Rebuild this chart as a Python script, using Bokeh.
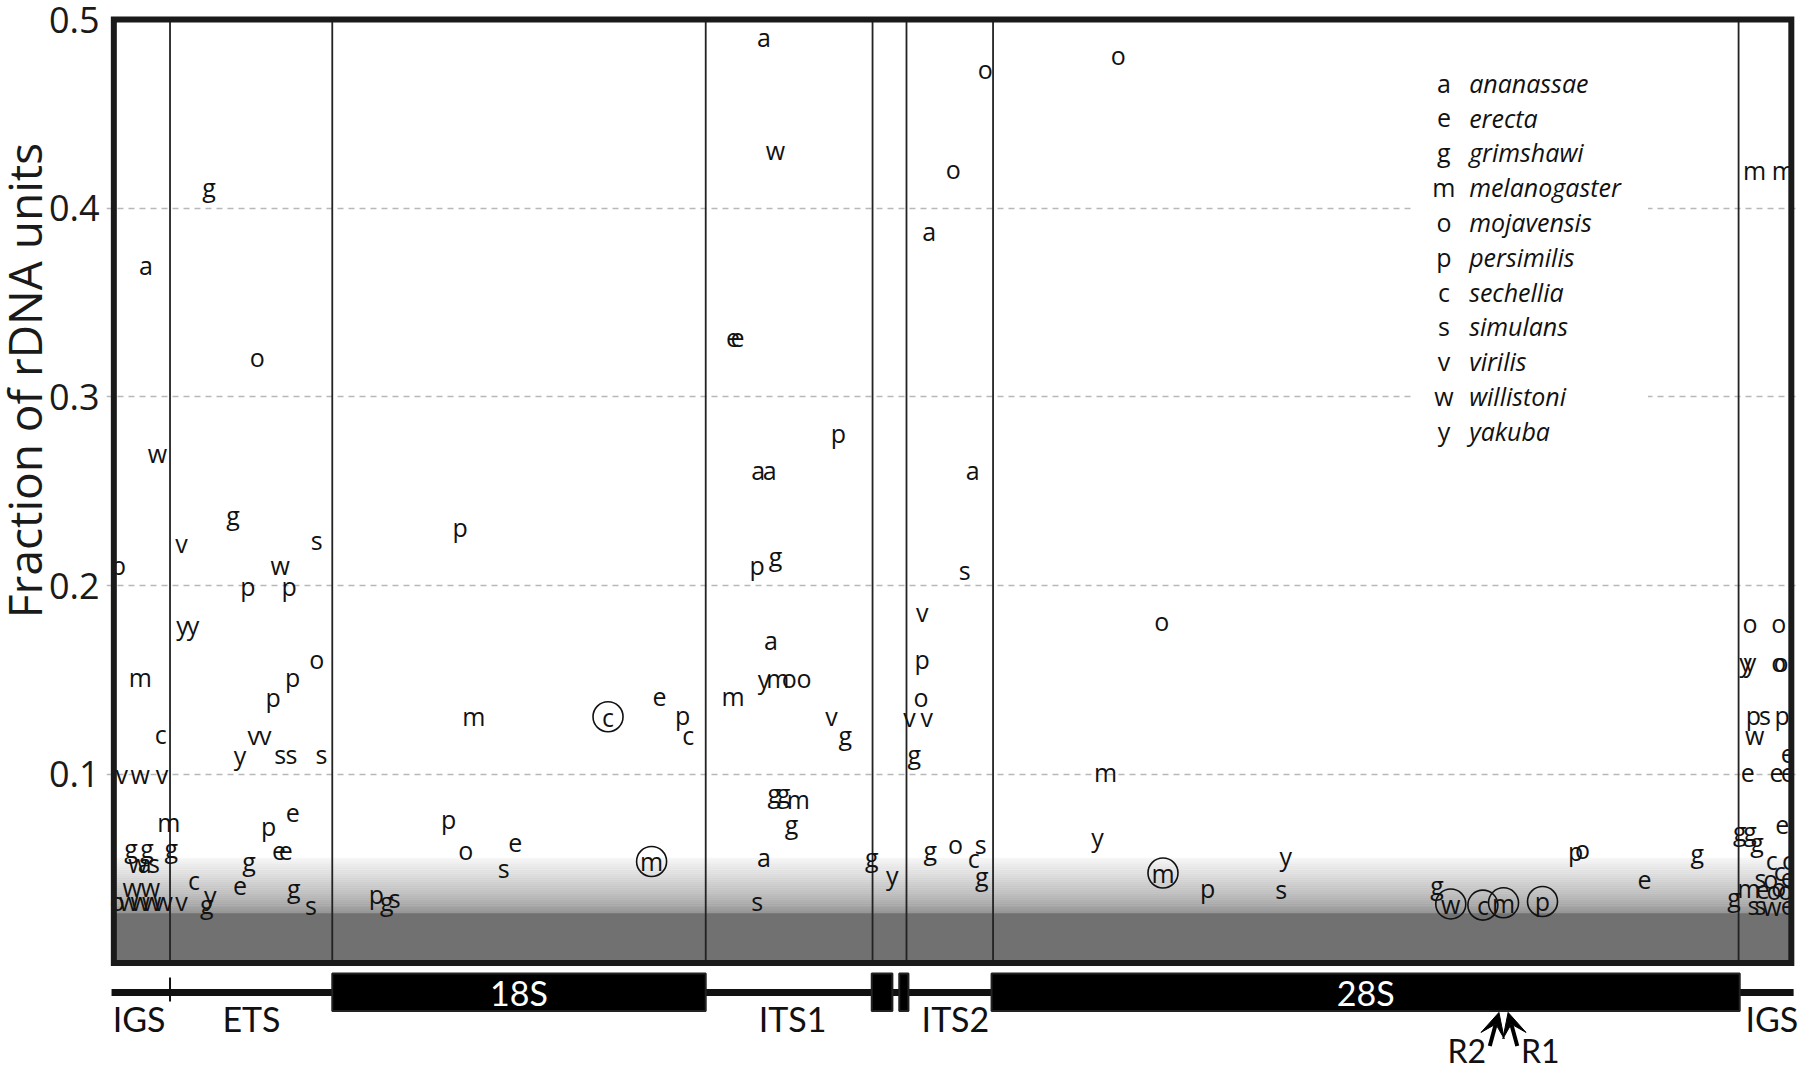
import numpy as np
from bokeh.plotting import figure
from bokeh.layouts import row
from bokeh.models import Range1d, FixedTicker, Arrow, VeeHead
from bokeh.core.properties import value
from bokeh.embed import file_html
from bokeh.resources import INLINE

# ---------------- data ----------------
species_codes = ["a", "e", "g", "m", "o", "p", "c", "s", "v", "w", "y"]
species_names = ["ananassae", "erecta", "grimshawi", "melanogaster", "mojavensis",
                 "persimilis", "sechellia", "simulans", "virilis", "willistoni", "yakuba"]

# region boundaries along the rDNA unit (arbitrary position units)
region_bounds = [146, 287.5, 613.2, 758.7, 788.3, 863.8, 1514]
region_labels = ["IGS", "ETS", "ITS1", "ITS2", "IGS"]
region_label_pos = [119, 217, 689, 831, 1543]
gene_labels = ["18S", "", "", "28S"]
gene_start = [287.5, 758, 782, 862.5]
gene_end = [613.2, 776, 790, 1515]
insert_labels = ["R2", "R1"]
insert_pos = [1305, 1313]

# letters: species code, position, fraction of rDNA units
igs5_code = ["a", "w", "p", "m", "c", "v", "w", "v", "m", "g", "g", "g", "w", "a", "s",
             "w", "w", "o", "w", "w", "w", "w"]
igs5_pos = [125, 135, 101, 120, 138, 104, 120, 139, 145, 112, 126, 147, 118, 124, 132,
            113, 129, 100, 110, 120, 130, 140]
igs5_frac = [0.370, 0.2705, 0.2108, 0.1518, 0.1214, 0.1001, 0.1001, 0.1001, 0.0745, 0.0611,
             0.0611, 0.0611, 0.0532, 0.0532, 0.0532, 0.0404, 0.0404, 0.0326, 0.0326, 0.0326,
             0.0326, 0.0326]

ets_code = ["g", "o", "g", "s", "v", "w", "p", "p", "y", "y", "o", "p", "p", "v", "v", "y",
            "s", "s", "s", "e", "p", "e", "e", "g", "c", "e", "y", "g", "v", "g", "s"]
ets_pos = [180, 222, 201, 274, 156, 242, 214, 250, 157, 166, 274, 253, 236, 219, 229, 207,
           242, 252, 278, 253, 232, 241, 247, 215, 167, 207, 181, 178, 156, 254, 269]
ets_frac = [0.4111, 0.3210, 0.2376, 0.2242, 0.2224, 0.2108, 0.1999, 0.1999, 0.1792, 0.1792,
            0.1609, 0.1518, 0.1409, 0.1208, 0.1208, 0.1104, 0.1110, 0.1110, 0.1110, 0.0794,
            0.0727, 0.0593, 0.0593, 0.0538, 0.0441, 0.0410, 0.0362, 0.0313, 0.0326, 0.0398,
            0.0307]

s18_code = ["p", "m", "c", "e", "p", "c", "p", "o", "e", "s", "m", "p", "g", "s"]
s18_pos = [399, 411, 528, 573, 593, 598, 389, 404, 447, 437, 566, 326, 335, 342]
s18_frac = [0.2309, 0.1311, 0.1305, 0.1409, 0.1317, 0.1208, 0.0763, 0.0599, 0.0636, 0.0502,
            0.0538, 0.0368, 0.0331, 0.0343]

its1_code = ["a", "w", "e", "e", "p", "a", "a", "p", "g", "a", "y", "m", "o", "o", "m", "v",
             "g", "g", "g", "m", "g", "a", "s", "g", "y"]
its1_pos = [664, 674, 637, 641, 729, 659, 669, 658, 674, 670, 664, 676, 686, 699, 637, 723,
            735, 673, 681, 694, 688, 664, 658, 758, 776]
its1_frac = [0.4908, 0.4311, 0.3313, 0.3313, 0.2808, 0.2614, 0.2614, 0.2108, 0.2157, 0.1713,
             0.1506, 0.1512, 0.1512, 0.1512, 0.1415, 0.1311, 0.1208, 0.0903, 0.0903, 0.0867,
             0.0739, 0.0562, 0.0331, 0.0562, 0.0465]

its2_code = ["o", "o", "a", "a", "s", "v", "p", "o", "v", "v", "g", "g", "o", "s", "c", "g"]
its2_pos = [857, 829, 808, 846, 839, 802, 802, 801, 791, 806, 795, 809, 831, 853, 847, 854]
its2_frac = [0.4737, 0.4208, 0.3880, 0.2614, 0.2084, 0.1859, 0.1609, 0.1409, 0.1305, 0.1305,
             0.1110, 0.0599, 0.0629, 0.0629, 0.0556, 0.0459]

s28_code = ["o", "o", "m", "y", "m", "p", "y", "s", "g", "w", "c", "m", "p", "p", "o", "e", "g"]
s28_pos = [973, 1011, 962, 955, 1012, 1051, 1119, 1115, 1251, 1263, 1291, 1309, 1343, 1372,
           1378, 1432, 1478]
s28_frac = [0.4811, 0.1810, 0.1013, 0.0666, 0.0477, 0.0398, 0.0569, 0.0392, 0.0416, 0.0313,
            0.0307, 0.0319, 0.0326, 0.0593, 0.0605, 0.0441, 0.0581]

igs3_code = ["m", "m", "o", "o", "y", "y", "o", "o", "p", "s", "p", "w", "e", "e", "e", "e",
             "g", "g", "g", "e", "c", "c", "s", "o", "c", "e", "g", "m", "e", "o", "o", "o",
             "s", "s", "w", "e"]
igs3_pos = [1528, 1553, 1524, 1549, 1520, 1524, 1549, 1551, 1527, 1537, 1552, 1528, 1557,
            1522, 1547, 1557, 1515, 1524, 1530, 1552, 1543, 1557, 1533, 1542, 1550, 1557,
            1510, 1523, 1535, 1545, 1549, 1555, 1527, 1533, 1543, 1557]
igs3_frac = [0.4202, 0.4202, 0.1804, 0.1804, 0.1597, 0.1597, 0.1597, 0.1597, 0.1317, 0.1317,
             0.1317, 0.1208, 0.1110, 0.1007, 0.1007, 0.1007, 0.0702, 0.0702, 0.0642, 0.0733,
             0.0544, 0.0544, 0.0453, 0.0447, 0.0489, 0.0453, 0.0350, 0.0398, 0.0386, 0.0386,
             0.0404, 0.0386, 0.0307, 0.0307, 0.0301, 0.0301]

# circled letters (code, position, fraction)
circ_code = ["c", "m", "m", "w", "c", "m", "p"]
circ_pos = [528, 566, 1012, 1263, 1291, 1309, 1343]
circ_frac = [0.1305, 0.0538, 0.0477, 0.0313, 0.0307, 0.0319, 0.0326]

y_ticks = [0.1, 0.2, 0.3, 0.4, 0.5]
grid_ticks = [0.1, 0.2, 0.3, 0.4]
y_title = "Fraction of rDNA units"

# ---------------- layout constants ----------------
H = 1071
TITLE_W = 45           # narrow strip holding the rotated y title
W = 1800 - TITLE_W
LEFT = 59              # so that the data frame starts at x = 104 on the page
X0, X1 = 90.6, 1568.0
Y0, Y1 = -0.0575, 0.5101
BOX_L, BOX_R = 97.0, 1560.0
SHADE_DARK_TOP = 0.0265
SHADE_FADE_TOP = 0.0556
FONT = "Open Sans"
LAB_FONT = "Lato"

yr = Range1d(Y0, Y1)

p = figure(width=W, height=H, x_range=Range1d(X0, X1), y_range=yr,
           output_backend="svg", toolbar_location=None, x_axis_location=None,
           min_border_left=LEFT, min_border_right=0, min_border_top=0, min_border_bottom=0)
p.outline_line_color = None
p.background_fill_color = "white"

# y axis
p.yaxis.ticker = FixedTicker(ticks=y_ticks)
p.yaxis.axis_line_color = None
p.yaxis.major_tick_line_color = None
p.yaxis.minor_tick_line_color = None
p.yaxis.major_tick_in = 0
p.yaxis.major_tick_out = 0
p.yaxis.major_label_standoff = 7
p.yaxis.major_label_text_font = FONT
p.yaxis.major_label_text_font_size = "36px"
p.yaxis.major_label_text_color = "#1a1a1a"

p.ygrid.ticker = FixedTicker(ticks=grid_ticks)
p.ygrid.grid_line_color = "#b8b8b8"
p.ygrid.grid_line_dash = "6 5"
p.ygrid.grid_line_width = 1.5
p.xgrid.visible = False

# bottom shading: flat dark band + fade to white
p.quad(left=BOX_L, right=BOX_R, bottom=0, top=SHADE_DARK_TOP, fill_color="#717171", line_color=None)
n = 28
edges = np.linspace(SHADE_DARK_TOP, SHADE_FADE_TOP, n + 1)
cols = []
for i in range(n):
    t = (i + 0.5) / n
    g = int(round(0x92 + (0xf6 - 0x92) * t ** 0.8))
    cols.append("#%02x%02x%02x" % (g, g, g))
p.quad(left=BOX_L, right=BOX_R, bottom=edges[:-1], top=edges[1:], fill_color=cols, line_color=cols,
       line_width=0.5)

# legend white background
p.quad(left=1230, right=1435, bottom=0.270, top=0.470, fill_color="white", line_color=None)

# region boundaries
p.segment(x0=region_bounds, x1=region_bounds, y0=0, y1=0.5, line_color="#222222", line_width=1.8)

# letters
all_code = igs5_code + ets_code + s18_code + its1_code + its2_code + s28_code + igs3_code
all_pos = igs5_pos + ets_pos + s18_pos + its1_pos + its2_pos + s28_pos + igs3_pos
all_frac = igs5_frac + ets_frac + s18_frac + its1_frac + its2_frac + s28_frac + igs3_frac
circled = set(zip(circ_pos, circ_frac))
plain = [(c, x, y) for c, x, y in zip(all_code, all_pos, all_frac) if (x, y) not in circled]
p.text(x=[t[1] for t in plain], y=[t[2] for t in plain], text=[t[0] for t in plain],
       text_font=value(FONT), text_font_size="25px", text_align="center",
       text_baseline="middle", text_color="#111111")
p.text(x=circ_pos, y=circ_frac, text=circ_code, text_font=value(FONT), text_font_size="25px",
       text_align="center", text_baseline="middle", text_color="#111111")
p.scatter(x=circ_pos, y=circ_frac, marker="circle", size=30, fill_color=None,
          line_color="#111111", line_width=1.6)

# legend
LEG_TOP = 0.4665
LEG_STEP = 0.01845
leg_y = [LEG_TOP - i * LEG_STEP for i in range(len(species_codes))]
p.text(x=[1257] * len(species_codes), y=leg_y, text=species_codes, text_font=value(FONT),
       text_font_size="25px", text_align="center", text_baseline="middle", text_color="#111111")
p.text(x=[1279] * len(species_names), y=leg_y, text=species_names, text_font=value(FONT),
       text_font_size="25px", text_font_style="italic", text_align="left",
       text_baseline="middle", text_color="#111111")

# frame border
p.quad(left=BOX_L, right=BOX_R, bottom=0, top=0.5, fill_color=None, line_color="#1a1a1a",
       line_width=6, line_join="miter")

# gene diagram
LINE_Y = -0.0156
p.segment(x0=[BOX_L - 2], x1=[BOX_R + 2], y0=[LINE_Y], y1=[LINE_Y], line_color="#111111",
          line_width=7)
p.segment(x0=[region_bounds[0]], x1=[region_bounds[0]], y0=[-0.0077], y1=[-0.0204],
          line_color="#111111", line_width=2)
p.quad(left=gene_start, right=gene_end, top=-0.0056, bottom=-0.0255, fill_color="black",
       line_color="#222222", line_width=2)
p.text(x=[(a + b) / 2 for a, b in zip(gene_start, gene_end)], y=[LINE_Y] * len(gene_start),
       text=gene_labels, text_font=value(LAB_FONT), text_font_size="34px",
       text_align="center", text_baseline="middle", text_color="white")
p.text(x=region_label_pos, y=[-0.0295] * len(region_labels), text=region_labels,
       text_font=value(LAB_FONT), text_font_size="34px", text_align="center",
       text_baseline="middle", text_color="#111111")

# R2 / R1 insertion sites
tails = [(insert_pos[0] - 8, -0.0440), (insert_pos[1] + 8, -0.0440)]
for (tx, ty), hx in zip(tails, insert_pos):
    p.add_layout(Arrow(end=VeeHead(size=24, fill_color="black", line_color="black"),
                       x_start=tx, y_start=ty, x_end=hx, y_end=-0.0262,
                       line_width=4, line_color="black"))
p.text(x=[1277, 1341], y=[-0.0466, -0.0466], text=insert_labels,
       text_font=value(LAB_FONT), text_font_size="32px", text_align="center",
       text_baseline="middle", text_color="#111111")

# narrow strip on the left with the rotated y-axis title (shares the y range)
ft = figure(width=TITLE_W, height=H, x_range=Range1d(0, TITLE_W), y_range=yr,
            output_backend="svg", toolbar_location=None, x_axis_location=None,
            y_axis_location=None, min_border=0)
ft.outline_line_color = None
ft.xgrid.visible = False
ft.ygrid.visible = False
ft.text(x=[23.5], y=[0.3087], text=[y_title], angle=np.pi / 2, text_font=value(FONT),
        text_font_size="46px", text_align="center", text_baseline="middle",
        text_color="#1a1a1a")

layout = row(ft, p)
open("out.html", "w").write(file_html(layout, INLINE))
